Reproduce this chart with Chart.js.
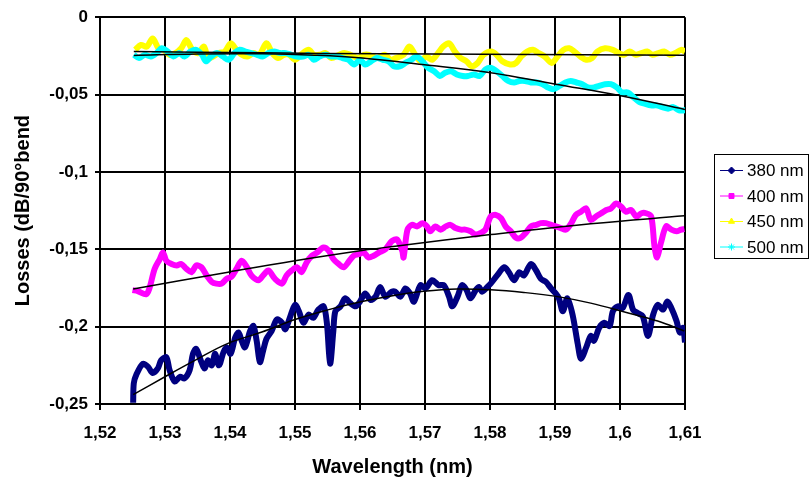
<!DOCTYPE html>
<html>
<head>
<meta charset="utf-8">
<title>Bend losses vs wavelength</title>
<script src="https://cdn.jsdelivr.net/npm/chart.js@4.4.1/dist/chart.umd.min.js"></script>
<style>
  html, body { margin: 0; padding: 0; background: #fff; }
  #wrap { width: 811px; height: 484px; }
</style>
</head>
<body>
<div id="wrap"><canvas id="lossChart" width="811" height="484"></canvas></div>
<script>
// measured bend losses, one pair of arrays per source wavelength
const wl380 = [1.5251,1.5252,1.5256,1.5266,1.5274,1.5281,1.5289,1.5294,1.5302,1.5307,1.5315,1.5323,1.5330,1.5338,1.5343,1.5348,1.5356,1.5361,1.5366,1.5372,1.5377,1.5383,1.5390,1.5395,1.5401,1.5408,1.5413,1.5418,1.5423,1.5431,1.5436,1.5441,1.5446,1.5451,1.5456,1.5464,1.5472,1.5480,1.5485,1.5492,1.5500,1.5506,1.5513,1.5521,1.5528,1.5536,1.5544,1.5549,1.5554,1.5559,1.5562,1.5570,1.5577,1.5585,1.5593,1.5600,1.5608,1.5616,1.5624,1.5631,1.5639,1.5649,1.5654,1.5662,1.5670,1.5677,1.5683,1.5693,1.5701,1.5711,1.5721,1.5729,1.5737,1.5742,1.5750,1.5757,1.5764,1.5770,1.5778,1.5783,1.5788,1.5796,1.5801,1.5811,1.5822,1.5829,1.5837,1.5845,1.5852,1.5863,1.5871,1.5878,1.5886,1.5894,1.5901,1.5906,1.5912,1.5919,1.5927,1.5935,1.5940,1.5948,1.5955,1.5960,1.5968,1.5976,1.5984,1.5989,1.5997,1.6004,1.6013,1.6020,1.6027,1.6035,1.6043,1.6051,1.6058,1.6066,1.6073,1.6079,1.6087,1.6092,1.6097,1.6100];
const loss380 = [-0.2492,-0.2366,-0.231,-0.224,-0.226,-0.230,-0.227,-0.2218,-0.2197,-0.228,-0.2355,-0.2324,-0.2334,-0.228,-0.2176,-0.2144,-0.2229,-0.227,-0.2218,-0.225,-0.2176,-0.225,-0.2165,-0.2134,-0.2176,-0.207,-0.2038,-0.2091,-0.2134,-0.2028,-0.1996,-0.2091,-0.2229,-0.2155,-0.208,-0.2028,-0.1954,-0.1975,-0.2017,-0.1943,-0.1859,-0.1901,-0.1975,-0.1922,-0.1943,-0.189,-0.1869,-0.1975,-0.2239,-0.2028,-0.1901,-0.1869,-0.1817,-0.1848,-0.1869,-0.1838,-0.1785,-0.1827,-0.1806,-0.1743,-0.1806,-0.1774,-0.1774,-0.1806,-0.1753,-0.1785,-0.1838,-0.1732,-0.1753,-0.170,-0.1732,-0.1732,-0.1806,-0.1869,-0.1806,-0.1732,-0.1764,-0.1817,-0.1764,-0.1743,-0.1774,-0.1743,-0.1722,-0.1669,-0.1616,-0.1648,-0.170,-0.1648,-0.1669,-0.1595,-0.1637,-0.169,-0.1711,-0.1753,-0.1785,-0.1817,-0.1901,-0.1817,-0.1922,-0.2112,-0.2207,-0.2134,-0.206,-0.2091,-0.2007,-0.1975,-0.1996,-0.1901,-0.1869,-0.188,-0.1795,-0.189,-0.1912,-0.1933,-0.206,-0.1922,-0.1859,-0.189,-0.1838,-0.188,-0.1964,-0.2038,-0.2007,-0.2102];

const wl400 = [1.5250,1.5258,1.5271,1.5276,1.5284,1.5292,1.5297,1.5302,1.5310,1.5318,1.5325,1.5333,1.5341,1.5348,1.5356,1.5364,1.5372,1.5379,1.5387,1.5395,1.5402,1.5410,1.5418,1.5426,1.5433,1.5444,1.5451,1.5459,1.5469,1.5480,1.5487,1.5495,1.5503,1.5510,1.5518,1.5526,1.5534,1.5544,1.5552,1.5559,1.5567,1.5575,1.5582,1.5590,1.5598,1.5606,1.5613,1.5621,1.5629,1.5639,1.5649,1.5657,1.5665,1.5667,1.5673,1.5680,1.5688,1.5696,1.5703,1.5708,1.5716,1.5724,1.5732,1.5739,1.5747,1.5755,1.5762,1.5770,1.5778,1.5786,1.5793,1.5801,1.5809,1.5817,1.5824,1.5832,1.5840,1.5847,1.5855,1.5863,1.5871,1.5878,1.5886,1.5894,1.5901,1.5909,1.5917,1.5925,1.5932,1.5940,1.5948,1.5955,1.5963,1.5971,1.5979,1.5986,1.5994,1.6002,1.6009,1.6017,1.6025,1.6033,1.6040,1.6048,1.6053,1.6057,1.6063,1.6071,1.6079,1.6087,1.6094,1.6099];
const loss400 = [-0.1764,-0.177,-0.1791,-0.1753,-0.1627,-0.1563,-0.1521,-0.1574,-0.1595,-0.1605,-0.1595,-0.1627,-0.1648,-0.1605,-0.1616,-0.1669,-0.1711,-0.1722,-0.1722,-0.169,-0.1679,-0.1627,-0.1574,-0.1616,-0.1669,-0.170,-0.1669,-0.1637,-0.169,-0.1722,-0.1669,-0.1637,-0.1616,-0.1648,-0.1584,-0.1542,-0.1521,-0.1489,-0.151,-0.1563,-0.1595,-0.1616,-0.1584,-0.1542,-0.1532,-0.1521,-0.1553,-0.1542,-0.1521,-0.15,-0.1447,-0.1437,-0.151,-0.1553,-0.1373,-0.1342,-0.1352,-0.1331,-0.1352,-0.1384,-0.1352,-0.1373,-0.1352,-0.1342,-0.1363,-0.1373,-0.1373,-0.1384,-0.1405,-0.1394,-0.1373,-0.1288,-0.1278,-0.1299,-0.1352,-0.1384,-0.1426,-0.1426,-0.1394,-0.1352,-0.1342,-0.1331,-0.1331,-0.1342,-0.1352,-0.1363,-0.1373,-0.1331,-0.1278,-0.1257,-0.1236,-0.131,-0.1288,-0.1267,-0.1246,-0.1236,-0.1204,-0.1225,-0.1257,-0.1246,-0.1288,-0.1267,-0.1267,-0.1288,-0.1479,-0.1553,-0.1458,-0.1352,-0.1373,-0.1384,-0.1373,-0.1369];

const wl450 = [1.5254,1.5263,1.5272,1.5281,1.5290,1.5298,1.5307,1.5316,1.5325,1.5333,1.5342,1.5351,1.5360,1.5366,1.5374,1.5383,1.5392,1.5401,1.5410,1.5418,1.5427,1.5436,1.5445,1.5456,1.5465,1.5474,1.5483,1.5491,1.5500,1.5509,1.5521,1.5529,1.5538,1.5547,1.5556,1.5568,1.5576,1.5585,1.5597,1.5606,1.5614,1.5626,1.5638,1.5647,1.5655,1.5667,1.5676,1.5685,1.5693,1.5702,1.5711,1.5720,1.5728,1.5737,1.5746,1.5755,1.5764,1.5772,1.5781,1.5790,1.5802,1.5810,1.5819,1.5831,1.5840,1.5848,1.5857,1.5866,1.5875,1.5884,1.5895,1.5904,1.5913,1.5922,1.5930,1.5939,1.5948,1.5957,1.5965,1.5977,1.5989,1.5998,1.6006,1.6015,1.6024,1.6033,1.6042,1.6050,1.6059,1.6068,1.6077,1.6085,1.6094,1.6100];
const loss450 = [-0.0211,-0.0179,-0.0190,-0.0137,-0.0201,-0.0211,-0.0243,-0.0232,-0.0201,-0.0148,-0.0211,-0.0232,-0.0190,-0.0264,-0.0254,-0.0232,-0.0222,-0.0169,-0.0211,-0.0243,-0.0254,-0.0232,-0.0243,-0.0169,-0.0232,-0.0264,-0.0243,-0.0243,-0.0275,-0.0243,-0.0211,-0.0243,-0.0243,-0.0232,-0.0264,-0.0243,-0.0232,-0.0243,-0.0264,-0.0243,-0.0243,-0.0264,-0.0243,-0.0275,-0.0264,-0.0243,-0.0190,-0.0243,-0.0285,-0.0254,-0.0275,-0.0232,-0.0190,-0.0169,-0.0222,-0.0264,-0.0285,-0.0317,-0.0296,-0.0243,-0.0222,-0.0243,-0.0285,-0.0306,-0.0296,-0.0254,-0.0222,-0.0211,-0.0232,-0.0254,-0.0296,-0.0254,-0.0211,-0.0201,-0.0222,-0.0254,-0.0275,-0.0264,-0.0222,-0.0201,-0.0211,-0.0232,-0.0243,-0.0222,-0.0243,-0.0232,-0.0222,-0.0243,-0.0232,-0.0222,-0.0243,-0.0232,-0.0211,-0.0222];

const wl500 = [1.5252,1.5260,1.5269,1.5278,1.5287,1.5295,1.5304,1.5313,1.5322,1.5330,1.5339,1.5348,1.5357,1.5363,1.5371,1.5380,1.5389,1.5398,1.5407,1.5415,1.5424,1.5433,1.5442,1.5450,1.5459,1.5468,1.5477,1.5486,1.5494,1.5503,1.5512,1.5521,1.5529,1.5538,1.5547,1.5556,1.5565,1.5573,1.5582,1.5591,1.5600,1.5608,1.5617,1.5626,1.5635,1.5644,1.5652,1.5661,1.5670,1.5679,1.5687,1.5696,1.5705,1.5714,1.5723,1.5731,1.5740,1.5749,1.5758,1.5766,1.5775,1.5784,1.5793,1.5802,1.5810,1.5819,1.5828,1.5837,1.5845,1.5854,1.5863,1.5872,1.5881,1.5889,1.5898,1.5907,1.5916,1.5924,1.5933,1.5942,1.5951,1.5960,1.5968,1.5977,1.5986,1.5995,1.6003,1.6012,1.6021,1.6030,1.6039,1.6047,1.6056,1.6065,1.6074,1.6082,1.6091,1.6100];
const loss500 = [-0.0243,-0.0264,-0.0243,-0.0254,-0.0232,-0.0201,-0.0222,-0.0254,-0.0232,-0.0254,-0.0222,-0.0211,-0.0243,-0.0285,-0.0254,-0.0232,-0.0254,-0.0275,-0.0232,-0.0211,-0.0222,-0.0232,-0.0243,-0.0254,-0.0232,-0.0222,-0.0232,-0.0232,-0.0243,-0.0254,-0.0254,-0.0243,-0.0275,-0.0254,-0.0243,-0.0254,-0.0254,-0.0264,-0.0275,-0.0306,-0.0275,-0.0306,-0.0285,-0.0264,-0.0275,-0.0285,-0.0317,-0.0317,-0.0296,-0.0275,-0.0254,-0.0285,-0.0328,-0.0349,-0.0380,-0.0359,-0.0349,-0.0370,-0.0380,-0.0380,-0.0370,-0.0380,-0.0338,-0.0328,-0.0349,-0.0380,-0.0412,-0.0422,-0.0412,-0.0412,-0.0422,-0.0422,-0.0433,-0.0454,-0.0465,-0.0444,-0.0422,-0.0412,-0.0422,-0.0433,-0.0454,-0.0454,-0.0444,-0.0433,-0.0433,-0.0454,-0.0486,-0.0486,-0.0518,-0.0549,-0.0560,-0.0570,-0.0570,-0.0581,-0.0591,-0.0581,-0.0602,-0.0602];

// fitted trend curves (sampled)
const fitWl380 = [1.5251,1.5302,1.5346,1.5397,1.5449,1.5500,1.5552,1.5603,1.5650,1.5698,1.5750,1.5801,1.5852,1.5904,1.5955,1.6007,1.6058,1.6099];
const fit380 = [-0.244,-0.2319,-0.2218,-0.2108,-0.2035,-0.1954,-0.189,-0.1838,-0.1800,-0.1772,-0.1757,-0.1762,-0.1779,-0.1806,-0.1848,-0.1905,-0.1964,-0.2028];
const fitWl400 = [1.5251,1.5397,1.5500,1.5603,1.5654,1.5801,1.5955,1.6099];
const fit400 = [-0.1757,-0.1648,-0.1574,-0.1508,-0.1480,-0.1405,-0.1335,-0.1284];
const fitWl450 = [1.5252,1.5450,1.5635,1.6100];
const fit450 = [-0.0222,-0.0230,-0.0237,-0.0246];
const fitWl500 = [1.5252,1.5350,1.5450,1.5530,1.5603,1.5696,1.5801,1.5901,1.6001,1.6100];
const fit500 = [-0.0247,-0.0238,-0.0237,-0.0246,-0.0264,-0.0306,-0.0359,-0.0433,-0.0507,-0.0596];

const seriesNames = ["380 nm", "400 nm", "450 nm", "500 nm"];
const seriesColors = ["#000080", "#FF00FF", "#FFFF00", "#00FFFF"];
const seriesMarkers = ["rectRot", "rect", "triangle", "star"];

const xTicks = [1.52, 1.53, 1.54, 1.55, 1.56, 1.57, 1.58, 1.59, 1.60, 1.61];
const yTicks = [0, -0.05, -0.1, -0.15, -0.2, -0.25];

const FONT = "'Liberation Sans', Arial, sans-serif";

const toPoints = (xs, ys) => xs.map((x, i) => ({ x, y: ys[i] }));
const comma = v => String(Math.round(v * 100) / 100).replace(".", ",");

const measured = [
  [wl380, loss380], [wl400, loss400], [wl450, loss450], [wl500, loss500]
];
const fits = [
  [fitWl380, fit380], [fitWl400, fit400], [fitWl450, fit450], [fitWl500, fit500]
];

// cyan above yellow, trend lines above everything
const drawOrder = [4, 3, 2, 1];

const datasets = [];
measured.forEach(([xs, ys], i) => {
  datasets.push({
    label: seriesNames[i],
    data: toPoints(xs, ys),
    borderColor: seriesColors[i],
    backgroundColor: seriesColors[i],
    borderWidth: 6,
    pointRadius: 0,
    tension: 0.3,
    order: drawOrder[i]
  });
});
fits.forEach(([xs, ys]) => {
  datasets.push({
    label: "",
    data: toPoints(xs, ys),
    borderColor: "#000",
    borderWidth: 1.5,
    pointRadius: 0,
    tension: 0.4,
    order: 0
  });
});

// boxed legend at the right, Excel style
const legendBox = {
  id: "legendBox",
  afterDraw(chart) {
    const ctx = chart.ctx;
    const bx = 714.5, by = 154.5, bw = 94, bh = 104;
    ctx.save();
    ctx.fillStyle = "#fff";
    ctx.fillRect(bx, by, bw, bh);
    ctx.strokeStyle = "#000";
    ctx.lineWidth = 1;
    ctx.strokeRect(bx, by, bw, bh);
    ctx.font = "17px " + FONT;
    ctx.textBaseline = "middle";
    seriesNames.forEach((name, i) => {
      const cy = 170.5 + i * 25.5;
      ctx.strokeStyle = seriesColors[i];
      ctx.fillStyle = seriesColors[i];
      ctx.lineWidth = 1;
      ctx.beginPath();
      ctx.moveTo(720, cy);
      ctx.lineTo(743, cy);
      ctx.stroke();
      Chart.helpers.drawPoint(ctx, { pointStyle: seriesMarkers[i], radius: 3.5, borderWidth: 1, rotation: 0 }, 731.5, cy);
      ctx.fillStyle = "#000";
      ctx.fillText(name, 747, cy + 1);
    });
    ctx.restore();
  }
};

new Chart(document.getElementById("lossChart"), {
  type: "line",
  data: { datasets },
  options: {
    responsive: false,
    animation: false,
    layout: { padding: { top: 10, right: 126, bottom: 0, left: 0 } },
    plugins: {
      legend: { display: false },
      tooltip: { enabled: false }
    },
    scales: {
      x: {
        type: "linear",
        min: 1.52,
        max: 1.61,
        afterBuildTicks: axis => { axis.ticks = xTicks.map(v => ({ value: v })); },
        afterFit: scale => { scale.height = 80; },
        ticks: {
          callback: comma,
          color: "#000",
          font: { family: FONT, size: 17, weight: "bold" },
          padding: 13,
          maxRotation: 0,
          autoSkip: false
        },
        grid: { color: "#000", lineWidth: 2, tickLength: 6 },
        border: { color: "#000", width: 2 },
        title: {
          display: true,
          text: "Wavelength (nm)",
          color: "#000",
          font: { family: FONT, size: 20, weight: "bold" },
          padding: { top: 0, bottom: 5 }
        }
      },
      y: {
        min: -0.25,
        max: 0,
        afterBuildTicks: axis => { axis.ticks = yTicks.map(v => ({ value: v })); },
        afterFit: scale => { scale.width = 100; },
        ticks: {
          callback: comma,
          color: "#000",
          font: { family: FONT, size: 17, weight: "bold" },
          padding: 7
        },
        grid: { color: "#000", lineWidth: 2, tickLength: 5 },
        border: { color: "#000", width: 2 },
        title: {
          display: true,
          text: "Losses (dB/90°bend",
          color: "#000",
          font: { family: FONT, size: 20, weight: "bold" },
          padding: { top: 11, bottom: 0 }
        }
      }
    }
  },
  plugins: [legendBox]
});
</script>
</body>
</html>
